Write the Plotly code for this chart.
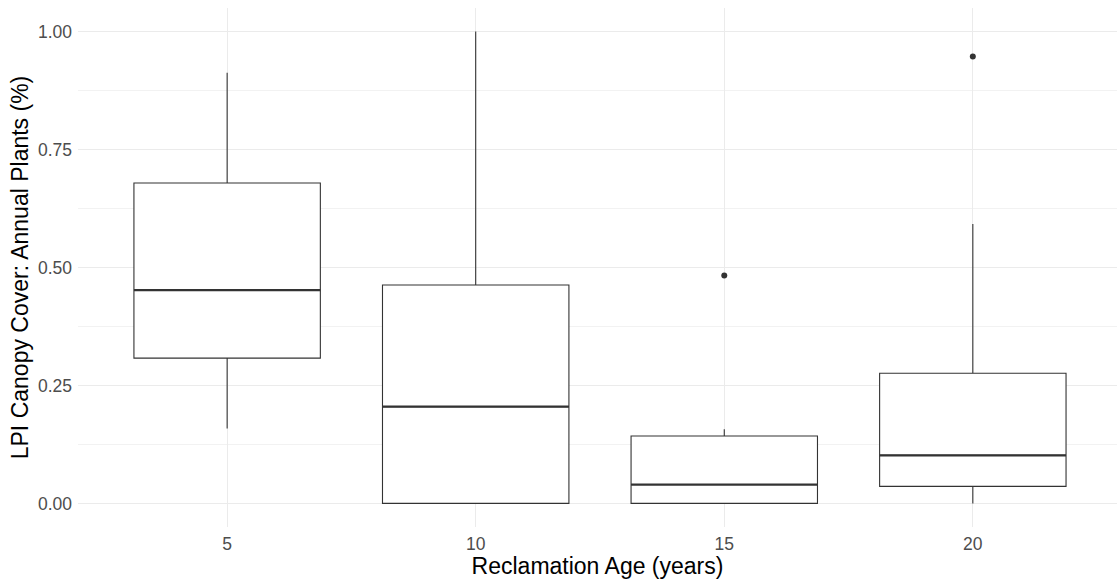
import plotly.graph_objects as go

ages = ["5", "10", "15", "20"]
q1 = [0.308, 0.0, 0.0, 0.036]
median = [0.452, 0.205, 0.040, 0.102]
q3 = [0.679, 0.463, 0.143, 0.276]
lower = [0.159, 0.0, 0.0, 0.0]
upper = [0.913, 1.0, 0.157, 0.592]
out_age = ["15", "20"]
out_val = [0.483, 0.947]

ytick_vals = [0, 0.25, 0.5, 0.75, 1.0]
ytick_text = ["0.00", "0.25", "0.50", "0.75", "1.00"]

line_col = "#333333"
box_w = 0.75

fig = go.Figure()
fig.add_trace(go.Box(
    x=ages, q1=q1, median=median, q3=q3,
    lowerfence=lower, upperfence=upper,
    width=box_w, whiskerwidth=0,
    fillcolor="white", line=dict(color=line_col, width=1.1),
    boxpoints=False, showlegend=False, hoverinfo="skip",
))
fig.add_trace(go.Scatter(
    x=out_age, y=out_val, mode="markers",
    marker=dict(color=line_col, size=6), showlegend=False,
))

# thicker median lines (ggplot style)
for i, m in enumerate(median):
    fig.add_shape(type="line", xref="x", yref="y",
                  x0=i - box_w / 2, x1=i + box_w / 2, y0=m, y1=m,
                  line=dict(color=line_col, width=2.2))

fig.update_layout(
    width=1117, height=585,
    margin=dict(l=78, r=0, t=8, b=58),
    paper_bgcolor="white", plot_bgcolor="white",
    font=dict(family="Liberation Sans, Arial, sans-serif", color="#4D4D4D"),
    xaxis=dict(
        type="category", categoryorder="array", categoryarray=ages,
        range=[-0.6, 3.58],
        showgrid=True, gridcolor="#EBEBEB", gridwidth=1.1,
        zeroline=False, showline=False, ticks="",
        ticklabelstandoff=4,
        tickfont=dict(size=17.5, color="#4D4D4D"),
        title=dict(text="Reclamation Age (years)", font=dict(size=23, color="black"), standoff=2),
    ),
    yaxis=dict(
        range=[-0.05, 1.05],
        tickvals=ytick_vals, ticktext=ytick_text,
        showgrid=True, gridcolor="#EBEBEB", gridwidth=1.1,
        minor=dict(showgrid=True, gridcolor="#F2F2F2", gridwidth=0.6, tickvals=[0.125, 0.375, 0.625, 0.875]),
        zeroline=False, showline=False, ticks="",
        ticklabelstandoff=5,
        tickfont=dict(size=17.5, color="#4D4D4D"),
        title=dict(text="LPI Canopy Cover: Annual Plants (%)", font=dict(size=23, color="black"), standoff=2),
    ),
)

fig.write_html("out.html")
